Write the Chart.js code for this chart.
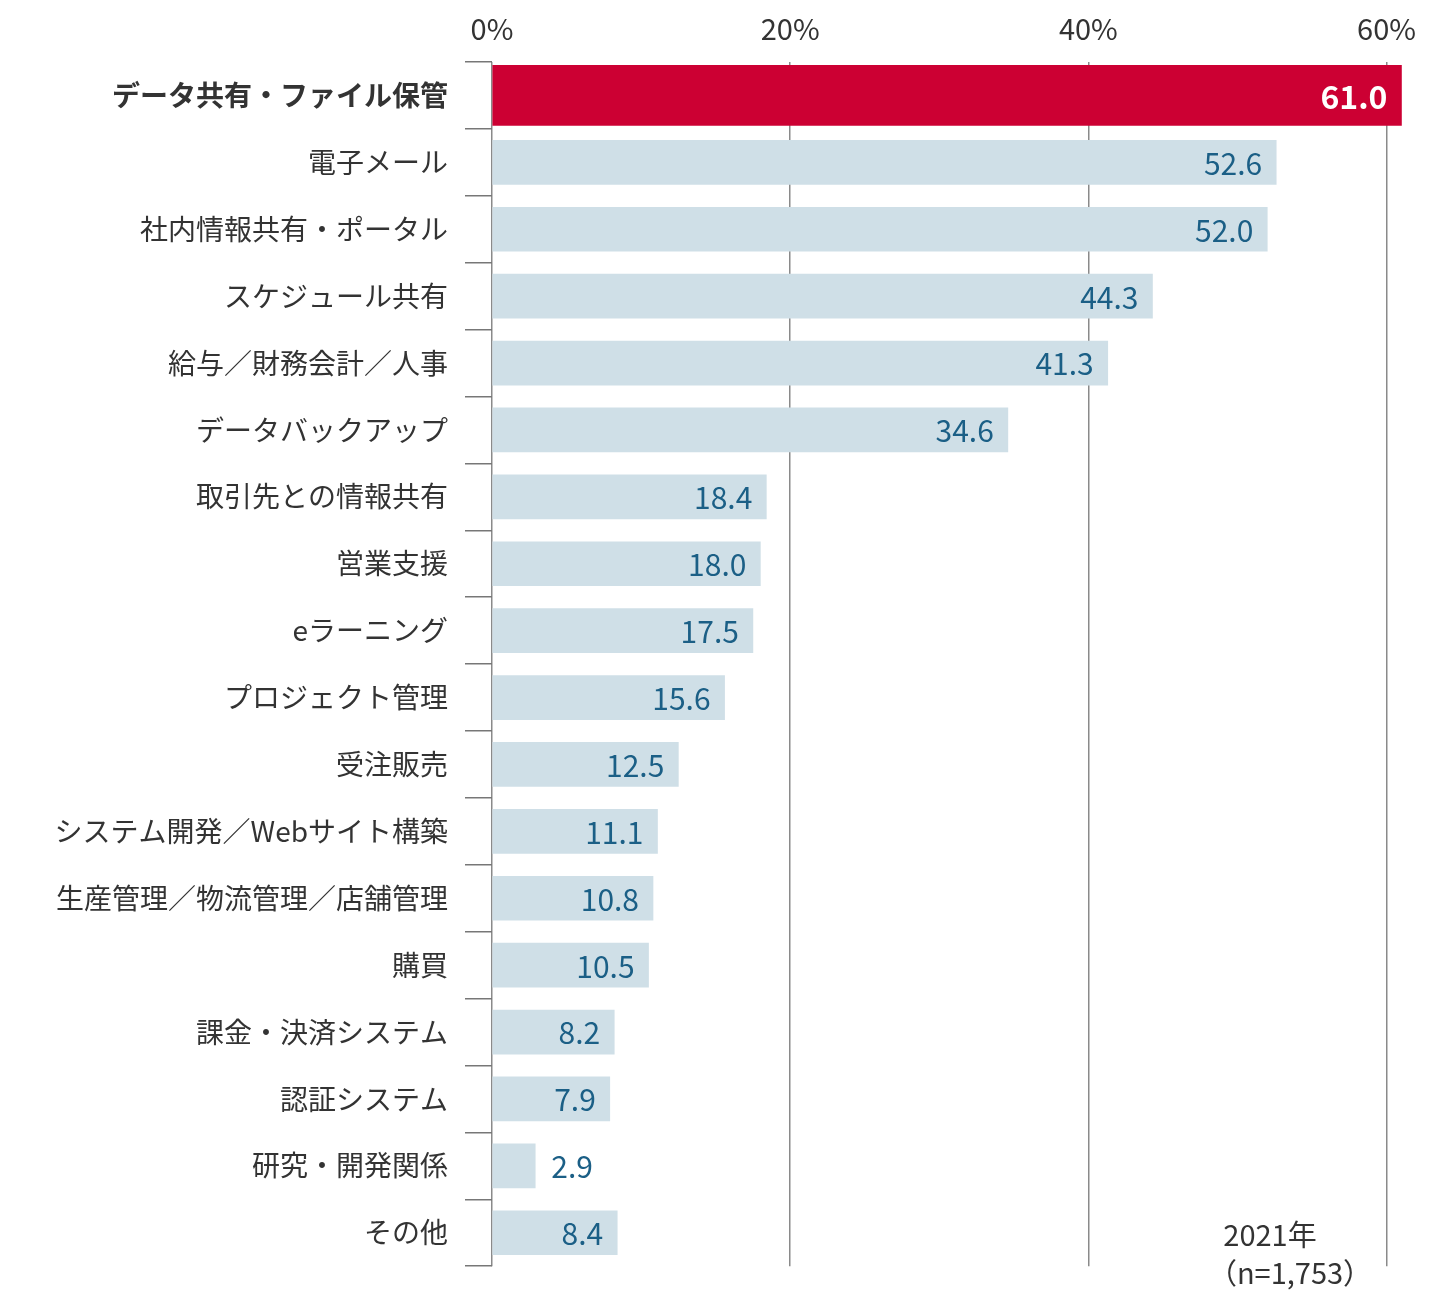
<!DOCTYPE html>
<html>
<head>
<meta charset="utf-8">
<script src="https://cdn.jsdelivr.net/npm/chart.js@4/dist/chart.umd.min.js"></script>
<style>
  body { margin: 0; background: #fff; }
  #wrap { width: 1432px; height: 1300px; }
</style>
</head>
<body>
<div id="wrap"><canvas id="chart"></canvas></div>
<script>
// ---- data ----
const categories = [
  "データ共有・ファイル保管", "電子メール", "社内情報共有・ポータル", "スケジュール共有",
  "給与／財務会計／人事", "データバックアップ", "取引先との情報共有", "営業支援",
  "eラーニング", "プロジェクト管理", "受注販売", "システム開発／Webサイト構築",
  "生産管理／物流管理／店舗管理", "購買", "課金・決済システム", "認証システム",
  "研究・開発関係", "その他"
];
const values = [61.0, 52.6, 52.0, 44.3, 41.3, 34.6, 18.4, 18.0, 17.5, 15.6, 12.5, 11.1, 10.8, 10.5, 8.2, 7.9, 2.9, 8.4];
const xTicks = [0, 20, 40, 60];
const noteLines = ["2021年", "（n=1,753）"];

const FONT = "'Noto Sans CJK JP', 'Noto Sans', sans-serif";
const highlight = values.map((v, i) => i === 0 ? v : null);
const rest = values.map((v, i) => i === 0 ? null : v);

// value labels at bar ends + footnote
const labelPlugin = {
  id: "valueLabels",
  afterDatasetsDraw(chart) {
    const ctx = chart.ctx;
    ctx.save();
    ctx.textBaseline = "middle";
    chart.data.datasets.forEach((ds, di) => {
      chart.getDatasetMeta(di).data.forEach((bar, i) => {
        const v = ds.data[i];
        if (v == null) return;
        const txt = v.toFixed(1);
        if (di === 0) {
          ctx.font = "bold 32px " + FONT;
          ctx.fillStyle = "#fff";
          ctx.textAlign = "right";
          ctx.fillText(txt, bar.x - 14, bar.y + 1);
        } else {
          ctx.font = "30px " + FONT;
          ctx.fillStyle = "#1b5f86";
          if (v < 5) {
            ctx.textAlign = "left";
            ctx.fillText(txt, bar.x + 16, bar.y + 1);
          } else {
            ctx.textAlign = "right";
            ctx.fillText(txt, bar.x - 14, bar.y + 1);
          }
        }
      });
    });
    ctx.font = "29px " + FONT;
    ctx.fillStyle = "#333";
    ctx.textAlign = "center";
    ctx.fillText(noteLines[0], 1270, 1235);
    ctx.fillText(noteLines[1], 1290, 1273);
    ctx.restore();
  }
};

new Chart(document.getElementById("chart"), {
  type: "bar",
  data: {
    labels: categories,
    datasets: [
      { data: highlight, backgroundColor: "#cc0033", barThickness: 60, grouped: false },
      { data: rest, backgroundColor: "#cfdfe7", barThickness: 44, grouped: false }
    ]
  },
  options: {
    indexAxis: "y",
    responsive: true,
    maintainAspectRatio: false,
    animation: false,
    layout: { padding: { top: 0, bottom: -21, left: 0, right: 0 } },
    plugins: { legend: { display: false }, tooltip: { enabled: false } },
    scales: {
      x: {
        position: "top",
        min: 0,
        max: 63,
        afterBuildTicks: s => { s.ticks = xTicks.map(v => ({ value: v })); },
        afterFit: s => { s.height = 62; },
        border: { display: false },
        grid: { color: "#8a8a8a", lineWidth: 1.5, drawTicks: false },
        ticks: {
          padding: 16,
          color: "#333",
          font: { family: FONT, size: 29 },
          callback: v => v + "%"
        }
      },
      y: {
        offset: true,
        afterFit: s => { s.width = 492; },
        border: { display: false },
        grid: { offset: true, drawOnChartArea: false, drawTicks: true, tickLength: 27, color: "#777", lineWidth: 1.5 },
        ticks: {
          padding: 17,
          color: "#333",
          font: ctx => ({ family: FONT, size: 28, weight: ctx.index === 0 ? "bold" : "normal" })
        }
      }
    }
  },
  plugins: [labelPlugin]
});
</script>
</body>
</html>
